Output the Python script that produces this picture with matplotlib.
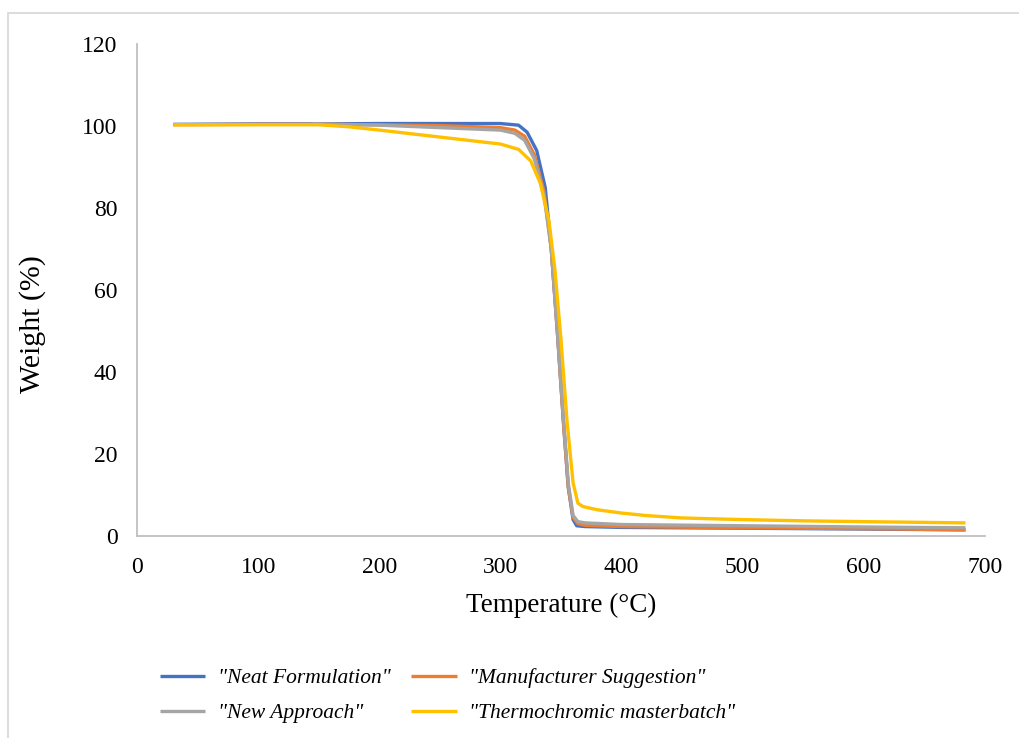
import numpy as np
import matplotlib.pyplot as plt
from matplotlib.patches import Rectangle

# TGA curves (temperature in °C, weight in %)
neat_t = [30, 100, 150, 200, 250, 300, 315, 322, 330, 337, 342, 347, 352, 356, 360, 363, 370, 400, 500, 600, 684]
neat_w = [100.4, 100.5, 100.5, 100.6, 100.6, 100.6, 100.2, 98.5, 94, 85, 70, 50, 28, 12, 4, 2.5, 2.3, 2.1, 1.9, 1.7, 1.5]

manu_t = [30, 100, 150, 200, 250, 300, 312, 320, 328, 336, 342, 347, 352, 356, 360, 364, 370, 400, 500, 600, 684]
manu_w = [100.3, 100.4, 100.4, 100.3, 100.1, 99.6, 99.0, 97.5, 93, 84, 70, 50, 28, 12, 4.5, 3.0, 2.6, 2.3, 2.0, 1.8, 1.5]

new_t = [145, 200, 250, 300, 312, 320, 328, 336, 342, 347, 352, 356, 360, 364, 370, 400, 500, 600, 684]
new_w = [100.5, 100.2, 99.6, 99.0, 98.2, 96.5, 92, 83, 70, 50, 29, 13, 5, 3.5, 3.2, 2.8, 2.5, 2.2, 2.0]

thermo_t = [30, 100, 150, 175, 200, 250, 300, 315, 325, 333, 340, 345, 350, 355, 360, 364, 368, 380, 400, 420, 450, 500, 550, 600, 684]
thermo_w = [100.3, 100.3, 100.3, 99.8, 99.0, 97.3, 95.6, 94.3, 91.5, 86, 77, 65, 48, 28, 13, 8, 7.2, 6.4, 5.6, 5.0, 4.4, 4.0, 3.7, 3.5, 3.2]

labels = ['"Neat Formulation"', '"Manufacturer Suggestion"', '"New Approach"', '"Thermochromic masterbatch"']
colors = ['#4472C4', '#ED7D31', '#A5A5A5', '#FFC000']

plt.rcParams['font.family'] = ['Liberation Serif', 'DejaVu Serif']

fig = plt.figure(figsize=(10.19, 7.38), dpi=100)
ax = fig.add_axes([0.1345, 0.2737, 0.832, 0.6667])

series = [(neat_t, neat_w), (manu_t, manu_w), (new_t, new_w), (thermo_t, thermo_w)]
handles = []
for (t, w), lab, c in zip(series, labels, colors):
    h, = ax.plot(t, w, color=c, lw=2.4, label=lab, solid_capstyle='butt')
    handles.append(h)

ax.set_xlim(0, 700)
ax.set_ylim(0, 120)
ax.set_xticks(range(0, 701, 100))
ax.set_yticks(range(0, 121, 20))
ax.tick_params(length=0, labelsize=17)
ax.tick_params(axis='x', pad=15)
ax.tick_params(axis='y', pad=14)
for s in ['top', 'right']:
    ax.spines[s].set_visible(False)
for s in ['left', 'bottom']:
    ax.spines[s].set_color('#bfbfbf')
    ax.spines[s].set_linewidth(1.3)

ax.set_xlabel('Temperature (°C)', fontsize=19.5, labelpad=11)
ax.set_ylabel('Weight (%)', fontsize=21.5)
ax.yaxis.set_label_coords(-0.107, 0.43)

# legend filled row by row like the reference
order = [0, 2, 1, 3]
fig.legend([handles[i] for i in order], [labels[i] for i in order],
           loc='upper left', bbox_to_anchor=(160 / 1019, 1 - 668 / 738), ncol=2, frameon=False,
           borderpad=0, borderaxespad=0,
           prop={'style': 'italic', 'size': 15.5}, handlelength=2.1, columnspacing=0.95,
           labelspacing=0.7, handletextpad=0.6)

# light chart border, cut off at the right and bottom like the reference
fig.patches.append(Rectangle((0.008, -0.05), 1.1, 1.032, transform=fig.transFigure,
                             fill=False, edgecolor='#d9d9d9', lw=1.3))

fig.savefig('out.png', dpi=100)
